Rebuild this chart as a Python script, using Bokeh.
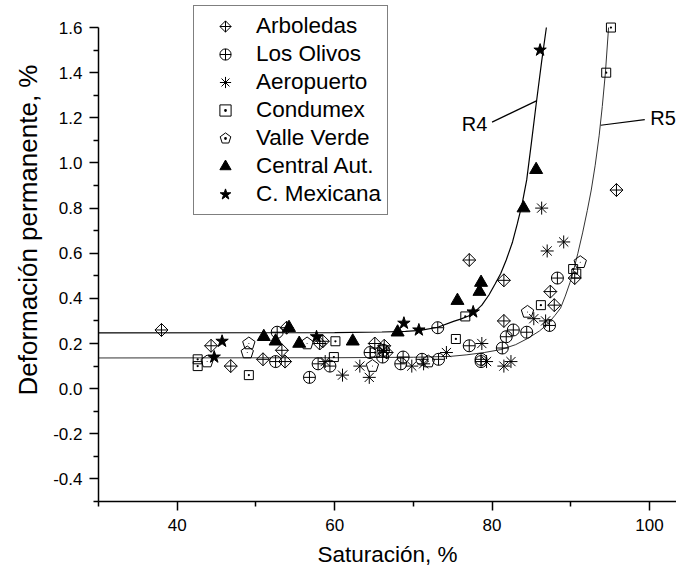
import numpy as np
from bokeh.plotting import figure
from bokeh.models import (Legend, LegendItem, FixedTicker, PrintfTickFormatter,
                          Range1d, Label, Title)
from bokeh.embed import file_html
from bokeh.resources import INLINE

# ---------------- data ----------------
arb_x = [38.0, 44.3, 46.8, 50.9, 53.9, 53.3, 53.7, 58.1, 58.5, 65.1, 66.3, 66.6, 77.1, 81.5, 81.5, 87.4, 87.9, 90.5, 95.8]
arb_y = [0.26, 0.19, 0.10, 0.13, 0.27, 0.17, 0.12, 0.20, 0.21, 0.20, 0.19, 0.16, 0.57, 0.48, 0.30, 0.43, 0.37, 0.49, 0.88]

oli_x = [52.7, 52.5, 57.9, 59.4, 56.8, 64.5, 66.2, 66.1, 68.7, 68.4, 71.1, 73.1, 73.2, 77.1, 78.6, 78.6, 81.3, 81.8, 82.7, 84.4, 87.3, 88.3]
oli_y = [0.25, 0.12, 0.11, 0.10, 0.05, 0.16, 0.17, 0.14, 0.14, 0.11, 0.13, 0.27, 0.13, 0.19, 0.13, 0.12, 0.18, 0.23, 0.26, 0.25, 0.28, 0.49]

aer_x = [58.8, 61.0, 63.2, 64.4, 66.2, 69.8, 71.3, 74.2, 78.7, 79.3, 81.5, 82.4, 85.3, 86.8, 87.0, 89.1, 86.3]
aer_y = [0.12, 0.06, 0.10, 0.05, 0.17, 0.10, 0.11, 0.16, 0.20, 0.12, 0.10, 0.12, 0.31, 0.30, 0.61, 0.65, 0.80]

con_x = [42.6, 42.6, 49.1, 60.1, 59.9, 65.1, 75.4, 76.6, 86.2, 90.3, 90.7, 94.5, 95.1]
con_y = [0.13, 0.10, 0.06, 0.21, 0.14, 0.16, 0.22, 0.32, 0.37, 0.53, 0.51, 1.40, 1.60]

vv_x = [43.8, 49.1, 48.9, 56.5, 64.8, 71.9, 84.5, 91.2]
vv_y = [0.12, 0.20, 0.16, 0.20, 0.10, 0.12, 0.34, 0.56]

ca_x = [51.0, 52.5, 54.2, 55.5, 62.3, 68.0, 75.6, 78.4, 78.6, 84.0, 85.6]
ca_y = [0.23, 0.21, 0.27, 0.20, 0.21, 0.25, 0.39, 0.43, 0.47, 0.80, 0.97]

cm_x = [44.7, 45.7, 57.7, 68.8, 70.7, 77.6, 86.1]
cm_y = [0.14, 0.21, 0.23, 0.29, 0.26, 0.34, 1.50]

r4_x = [30, 60, 66, 69, 70.9, 73.1, 75.1, 76.0, 77.0, 77.7, 78.7, 79.6, 80.4, 81.1, 81.8, 82.6, 83.2, 83.8, 84.4, 85.0, 85.6, 86.3, 86.9]
r4_y = [0.247, 0.248, 0.251, 0.254, 0.258, 0.272, 0.298, 0.308, 0.322, 0.337, 0.37, 0.415, 0.465, 0.51, 0.57, 0.65, 0.73, 0.815, 0.925, 1.09, 1.26, 1.45, 1.60]

r5_x = [30, 60, 70, 74.7, 76.8, 79.0, 81.1, 83.0, 84.5, 86.0, 87.0, 88.0, 88.7, 89.3, 89.9, 90.4, 90.9, 91.5, 92.1, 92.6, 93.1, 93.6, 94.0, 94.4, 94.8]
r5_y = [0.136, 0.137, 0.139, 0.143, 0.150, 0.160, 0.173, 0.195, 0.222, 0.255, 0.284, 0.325, 0.357, 0.41, 0.47, 0.53, 0.60, 0.69, 0.79, 0.88, 0.99, 1.12, 1.25, 1.40, 1.60]

series_names = ["Arboledas", "Los Olivos", "Aeropuerto", "Condumex",
                "Valle Verde", "Central Aut.", "C. Mexicana"]

x_major = [40, 60, 80, 100]
x_minor = [30, 50, 70, 90]
y_major = [-0.4, -0.2, 0.0, 0.2, 0.4, 0.6, 0.8, 1.0, 1.2, 1.4, 1.6]
y_minor = [-0.5, -0.3, -0.1, 0.1, 0.3, 0.5, 0.7, 0.9, 1.1, 1.3, 1.5]
y_axis_bounds = (-0.5, 1.6)

x_title = "Saturación, %"
y_title = "Deformación permanente, %"

# curve annotations
r4_label = (79.4, 1.172)
r4_leader = (80.0, 1.181, 85.7, 1.276)
r5_label = (100.1, 1.199)
r5_leader = (99.4, 1.192, 93.8, 1.167)

FONT = "Liberation Sans"

p = figure(width=676, height=577, x_range=Range1d(30, 103.43), y_range=Range1d(-0.5, 1.7198),
           output_backend="svg", toolbar_location=None,
           min_border_left=98, min_border_right=0, min_border_top=0, min_border_bottom=76)
p.outline_line_color = None
p.grid.visible = False
p.background_fill_color = "white"
p.border_fill_color = "white"

p.xaxis.ticker = FixedTicker(ticks=x_major, minor_ticks=x_minor)
p.yaxis.ticker = FixedTicker(ticks=y_major, minor_ticks=y_minor)
p.yaxis.bounds = y_axis_bounds
p.yaxis.formatter = PrintfTickFormatter(format="%.1f")
p.xaxis.axis_label = x_title
for ax in (p.xaxis[0], p.yaxis[0]):
    ax.axis_line_width = 1.5
    ax.major_tick_line_width = 1.5
    ax.minor_tick_line_width = 1.5
    ax.major_tick_in = 0
    ax.major_tick_out = 9
    ax.minor_tick_in = 0
    ax.minor_tick_out = 5
    ax.major_label_text_font = FONT
    ax.major_label_text_font_size = "17px"
    ax.major_label_text_color = "black"
    ax.axis_label_text_font = FONT
    ax.axis_label_text_font_size = "22.5px"
    ax.axis_label_text_font_style = "normal"
    ax.axis_label_text_color = "black"
p.xaxis.major_label_standoff = 8
p.xaxis.axis_label_standoff = 8
p.yaxis.major_label_standoff = 7

# y-axis title placed as a side title so it can sit where the reference has it
p.add_layout(Title(text=y_title, align="left", offset=106, vertical_align="bottom",
                   standoff=16, text_font=FONT, text_font_size="26px",
                   text_font_style="normal", text_color="black"), "left")

# fitted curves
p.line(r4_x, r4_y, line_color="black", line_width=1.2)
p.line(r5_x, r5_y, line_color="#333333", line_width=1.0)

# annotations for curves
p.segment(x0=[r4_leader[0]], y0=[r4_leader[1]], x1=[r4_leader[2]], y1=[r4_leader[3]],
          line_color="black", line_width=1.2)
p.segment(x0=[r5_leader[0]], y0=[r5_leader[1]], x1=[r5_leader[2]], y1=[r5_leader[3]],
          line_color="black", line_width=1.2)
p.add_layout(Label(x=r4_label[0], y=r4_label[1], text="R4", text_align="right",
                   text_baseline="middle", text_font=FONT, text_font_size="20px",
                   text_color="black"))
p.add_layout(Label(x=r5_label[0], y=r5_label[1], text="R5", text_align="left",
                   text_baseline="middle", text_font=FONT, text_font_size="20px",
                   text_color="black"))

# data points
common = dict(line_color="black", line_width=1)
r_arb = p.ngon(x=arb_x, y=arb_y, radius=6.5, radius_units="screen", n=4, angle=0,
               fill_color=None, **common)
r_arb_c = p.scatter(arb_x, arb_y, marker="cross", size=13, **common)
r_oli = p.scatter(oli_x, oli_y, marker="circle_cross", size=12, fill_color=None, **common)
r_aer = p.scatter(aer_x, aer_y, marker="asterisk", size=13, **common)
r_con = p.scatter(con_x, con_y, marker="square_dot", size=9, fill_color=None, **common)
r_vv = p.ngon(x=vv_x, y=vv_y, radius=6.5, radius_units="screen", n=5, angle=0,
              fill_color=None, **common)
r_vv_dot = p.scatter(vv_x, vv_y, marker="dot", size=4, line_color="black", fill_color="black")
r_ca = p.scatter(ca_x, ca_y, marker="triangle", size=13, fill_color="black", **common)
r_cm = p.scatter(cm_x, cm_y, marker="star", size=13, fill_color="black", **common)

renderers = [[r_arb, r_arb_c], [r_oli], [r_aer], [r_con], [r_vv, r_vv_dot], [r_ca], [r_cm]]
items = [LegendItem(label=n, renderers=r) for n, r in zip(series_names, renderers)]
legend = Legend(items=items, location=(95, 286), margin=0, padding=6,
                spacing=0, glyph_width=50, glyph_height=28, label_height=28,
                label_standoff=6, label_text_font=FONT, label_text_font_size="22.5px",
                label_text_color="black", border_line_color="black", border_line_width=1,
                background_fill_color="white", background_fill_alpha=1.0)
p.add_layout(legend)

open("out.html", "w").write(file_html(p, INLINE))
